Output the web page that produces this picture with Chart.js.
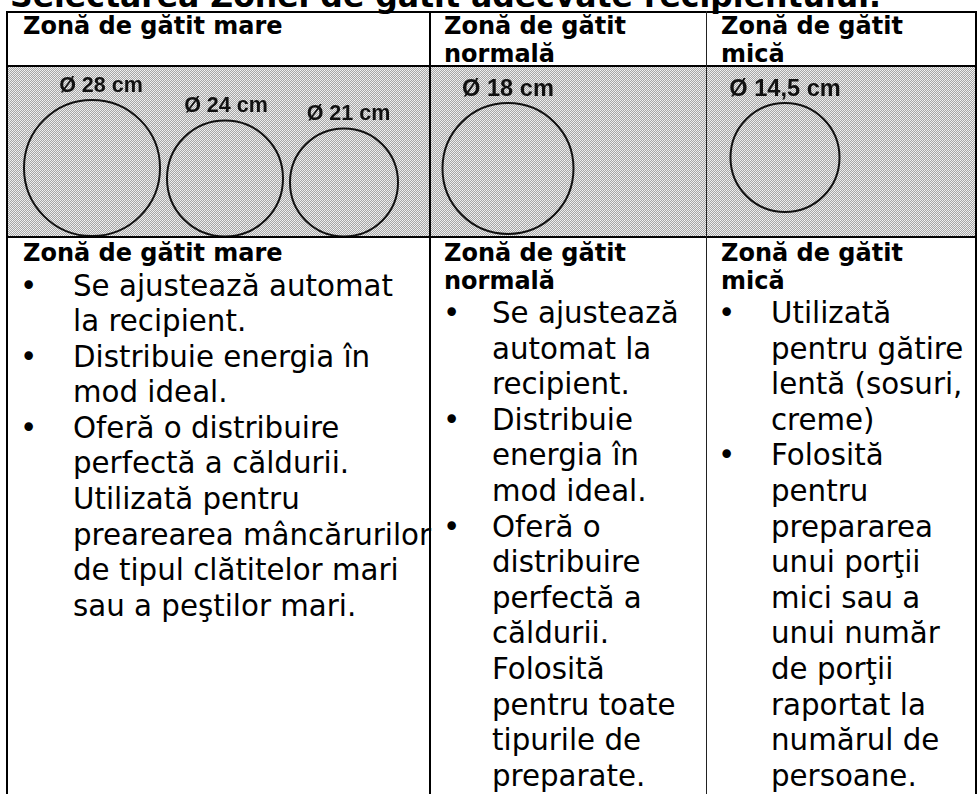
<!DOCTYPE html>
<html lang="ro">
<head>
<meta charset="utf-8">
<title>Zone de gătit</title>
<script src="https://cdn.jsdelivr.net/npm/chart.js@4.4.1/dist/chart.umd.min.js"></script>
<style>
    body {
        margin: 0;
        width: 978px;
        height: 794px;
        overflow: hidden;
        position: relative;
        background: #fff;
        color: #000;
        font-family: "DejaVu Sans", Verdana, sans-serif;
    }
    .title {
        position: absolute;
        left: 10px;
        top: -20px;
        font-weight: bold;
        font-size: 31.5px;
        line-height: 32px;
        white-space: nowrap;
    }
    .rule { position: absolute; background: #000; }
    .hob {
        position: absolute;
        left: 6px;
        top: 67px;
        width: 969px;
        height: 170px;
    }
    #hobChart { position: absolute; left: 6px; top: 66px; }
    .ring-label {
        position: absolute;
        transform: translate(-50%, -50%);
        font-family: "Liberation Sans", Arial, sans-serif;
        font-weight: bold;
        color: #111;
        white-space: nowrap;
    }
    .cell { position: absolute; white-space: nowrap; }
    .head { font-weight: bold; font-size: 24px; line-height: 27.5px; }
    .cell ul { list-style: none; margin: 1px 0 0 0; padding: 0; font-size: 29.3px; line-height: 35.6px; }
    .cell li { position: relative; }
    .cell li::before { content: "\2022"; position: absolute; left: 0; }
</style>
</head>
<body>

<div class="title">Selectarea Zonei de gătit adecvate recipientului.</div>

<!-- header row -->
<div class="cell head" style="left:23px; top:13px;">Zonă de gătit mare</div>
<div class="cell head" style="left:444px; top:13px;">Zonă de gătit<br>normală</div>
<div class="cell head" style="left:721px; top:13px;">Zonă de gătit<br>mică</div>

<!-- hob drawing row -->
<div class="hob" id="hobBg"></div>
<canvas id="hobChart" width="969" height="171"></canvas>

<!-- text row -->
<div class="cell" style="left:23px; top:240px;">
    <div class="head">Zonă de gătit mare</div>
    <ul style="margin-left:-3px;">
        <li style="padding-left:53px;">Se ajustează automat<br>la recipient.</li>
        <li style="padding-left:53px;">Distribuie energia în<br>mod ideal.</li>
        <li style="padding-left:53px;">Oferă o distribuire<br>perfectă a căldurii.<br>Utilizată pentru<br>prearearea mâncărurilor<br>de tipul clătitelor mari<br>sau a peştilor mari.</li>
    </ul>
</div>

<div class="cell" style="left:444px; top:240px;">
    <div class="head">Zonă de gătit<br>normală</div>
    <ul style="margin-left:-1px;">
        <li style="padding-left:49px;">Se ajustează<br>automat la<br>recipient.</li>
        <li style="padding-left:49px;">Distribuie<br>energia în<br>mod ideal.</li>
        <li style="padding-left:49px;">Oferă o<br>distribuire<br>perfectă a<br>căldurii.<br>Folosită<br>pentru toate<br>tipurile de<br>preparate.</li>
    </ul>
</div>

<div class="cell" style="left:721px; top:240px;">
    <div class="head">Zonă de gătit<br>mică</div>
    <ul style="margin-left:-3px;">
        <li style="padding-left:53px;">Utilizată<br>pentru gătire<br>lentă (sosuri,<br>creme)</li>
        <li style="padding-left:53px;">Folosită<br>pentru<br>prepararea<br>unui porţii<br>mici sau a<br>unui număr<br>de porţii<br>raportat la<br>numărul de<br>persoane.</li>
    </ul>
</div>

<!-- table rules -->
<div class="rule" style="left:6px; top:11px; width:970px; height:2px;"></div>
<div class="rule" style="left:6px; top:65px; width:970px; height:2px;"></div>
<div class="rule" style="left:6px; top:236px; width:970px; height:2px;"></div>
<div class="rule" style="left:6px; top:11px; width:2px; height:783px;"></div>
<div class="rule" style="left:975px; top:11px; width:2px; height:783px;"></div>
<div class="rule" style="left:429px; top:11px; width:2px; height:783px;"></div>
<div class="rule" style="left:706px; top:11px; width:1px; height:783px; background:#222;"></div>

<script>
// Hob rings
const ringLabels = ['Ø 28 cm', 'Ø 24 cm', 'Ø 21 cm', 'Ø 18 cm', 'Ø 14,5 cm'];
const ringX = [86, 219, 338, 502, 779];     // across the hob strip
const ringY = [102, 112.5, 116.5, 102.5, 91.5]; // down the hob strip
const ringR = [68, 58, 54, 65.5, 54.5];     // drawn radius

// Grey dither behind the rings
function makeDither() {
    const tile = document.createElement('canvas');
    tile.width = 6;
    tile.height = 6;
    const tctx = tile.getContext('2d');
    for (let y = 0; y < 6; y++) {
        for (let x = 0; x < 6; x++) {
            let c = (x + y) % 2 === 0 ? '#a6a6a6' : '#ececec';
            if ((x === 0 && y === 3) || (x === 3 && y === 0)) c = '#f8f8f8';
            tctx.fillStyle = c;
            tctx.fillRect(x, y, 1, 1);
        }
    }
    document.getElementById('hobBg').style.background = 'url(' + tile.toDataURL() + ')';
}

// Put each diameter label just above its ring
const labelNudge = [9, 1, 4.5, 0, 0];
const labelSize = [21.5, 21.5, 21.5, 23.6, 23.6];

const ringLabelPlugin = {
    id: 'ringLabels',
    afterDraw(chart) {
        const xs = chart.scales.x;
        const ys = chart.scales.y;
        const canvas = chart.canvas;
        ringLabels.forEach(function (txt, i) {
            let el = document.getElementById('ringLabel' + i);
            if (!el) {
                el = document.createElement('div');
                el.id = 'ringLabel' + i;
                el.className = 'ring-label';
                el.textContent = txt;
                el.style.fontSize = labelSize[i] + 'px';
                document.body.appendChild(el);
            }
            const px = xs.getPixelForValue(ringX[i]);
            const top = ys.getPixelForValue(ringY[i]) - ringR[i];
            el.style.left = (canvas.offsetLeft + px + labelNudge[i]) + 'px';
            el.style.top = (canvas.offsetTop + top - 15.5) + 'px';
        });
    }
};

function initHobChart() {
    const ctx = document.getElementById('hobChart');
    if (!ctx) return;

    new Chart(ctx, {
        type: 'bubble',
        data: {
            datasets: [{
                data: ringX.map(function (x, i) {
                    return { x: x, y: ringY[i], r: ringR[i] };
                }),
                backgroundColor: 'rgba(0,0,0,0)',
                borderColor: '#111',
                borderWidth: 2,
                clip: false
            }]
        },
        options: {
            responsive: false,
            devicePixelRatio: 1,
            animation: false,
            layout: { padding: 0, autoPadding: false },
            plugins: {
                legend: { display: false },
                tooltip: { enabled: false }
            },
            scales: {
                x: { type: 'linear', min: 0, max: 969, display: false },
                y: { type: 'linear', min: 0, max: 171, reverse: true, display: false }
            }
        },
        plugins: [ringLabelPlugin]
    });
}

document.addEventListener('DOMContentLoaded', function () {
    makeDither();
    initHobChart();
});
</script>
</body>
</html>
